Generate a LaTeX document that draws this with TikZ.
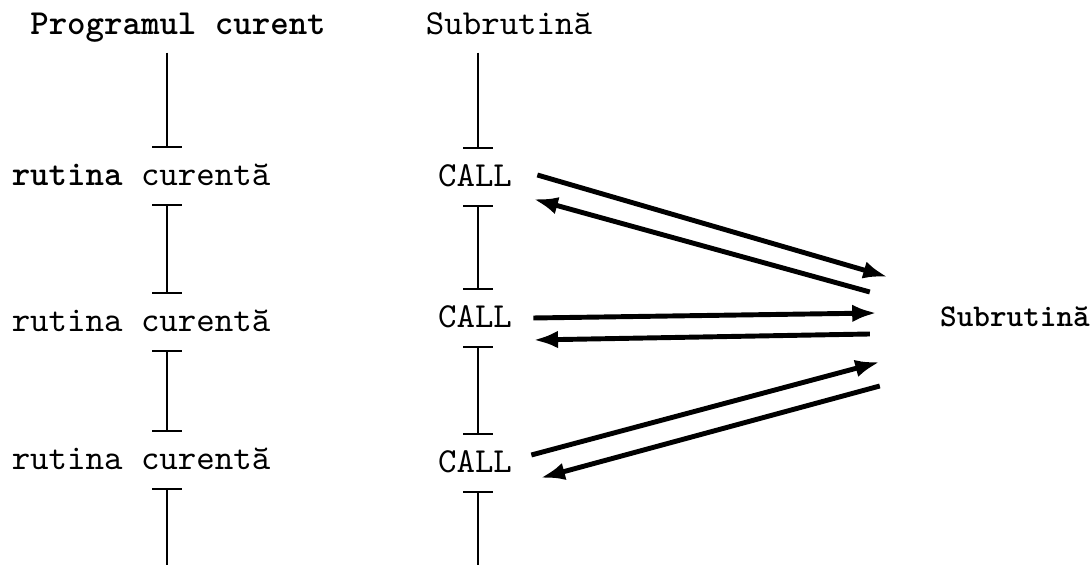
\documentclass[tikz,border=0pt]{standalone}
\usetikzlibrary{arrows.meta}
\begin{document}
\begin{tikzpicture}[x=0.01cm,y=-0.01cm]
                    \tikzstyle{txt}=[font=\ttfamily,text height=1.6ex,text depth=0.4ex]
                    \tikzstyle{seg}=[line width=0.6pt]
                    \tikzstyle{jump}=[line width=1.4pt,-{Latex[length=7pt,width=5pt]}]
                    \useasboundingbox (0,0) rectangle (1091,574);

                    \node (prog) at (178,25) [txt] {\bfseries Programul curent};
                    \node (sub) at (509,25) [txt] {Subrutină};
                    \node (r1) at (141,176) [txt] {\textbf{rutina} curentă};
                    \node (r2) at (141,322) [txt] {rutina curentă};
                    \node (r3) at (141,460) [txt] {rutina curentă};
                    \node (c1) at (475,177) [txt] {CALL};
                    \node (c2) at (475,318) [txt] {CALL};
                    \node (c3) at (475,463) [txt] {CALL};
                    \node (subr) at (1015,317) [txt,font=\ttfamily\bfseries\fontsize{9}{11}\selectfont] {Subrutină};
                    \coordinate (colL) at (167,565);
                    \coordinate (colM) at (478,565);

                    % main program column
                    \draw [seg,-{Bar[width=8.5pt]}] (prog.south -| colL) -- (r1.north -| colL);
                    \draw [seg,{Bar[width=8.5pt]}-{Bar[width=8.5pt]}] (r1.south -| colL) -- (r2.north -| colL);
                    \draw [seg,{Bar[width=8.5pt]}-{Bar[width=8.5pt]}] (r2.south -| colL) -- (r3.north -| colL);
                    \draw [seg,{Bar[width=8.5pt]}-] (r3.south -| colL) -- (colL);

                    % subroutine column
                    \draw [seg,-{Bar[width=8.5pt]}] (sub.south -| colM) -- (c1.north -| colM);
                    \draw [seg,{Bar[width=8.5pt]}-{Bar[width=8.5pt]}] (c1.south -| colM) -- (c2.north -| colM);
                    \draw [seg,{Bar[width=8.5pt]}-{Bar[width=8.5pt]}] (c2.south -| colM) -- (c3.north -| colM);
                    \draw [seg,{Bar[width=8.5pt]}-] (c3.south -| colM) -- (colM);

                    % calls and returns
                    \draw [jump] ([shift={(13,-2)}]c1.east) -- ([shift={(-40,-40)}]subr.west);
                    \draw [jump] ([shift={(-58,-25)}]subr.west) -- ([shift={(9,22)}]c1.east);
                    \draw [jump] ([shift={(9,0)}]c2.east) -- ([shift={(-51,-4)}]subr.west);
                    \draw [jump] ([shift={(-58,17)}]subr.west) -- ([shift={(9,22)}]c2.east);
                    \draw [jump] ([shift={(7,-8)}]c3.east) -- ([shift={(-48,45)}]subr.west);
                    \draw [jump] ([shift={(-48,69)}]subr.west) -- ([shift={(16,15)}]c3.east);
                \end{tikzpicture}
\end{document}
